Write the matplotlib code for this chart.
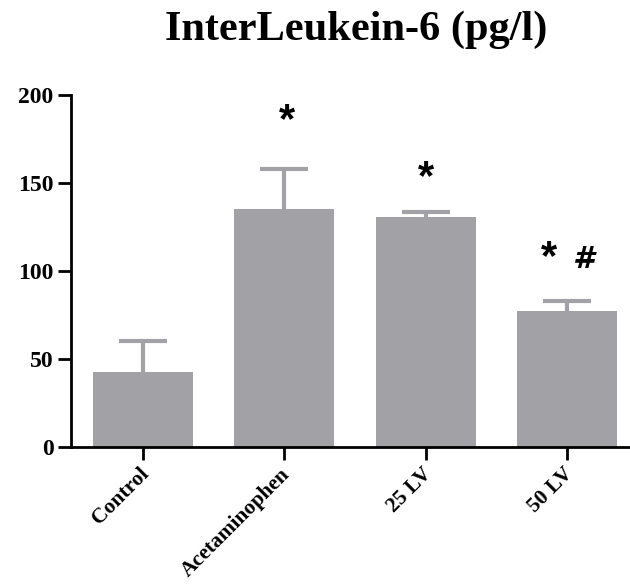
import matplotlib
matplotlib.use("Agg")
import matplotlib.pyplot as plt
from matplotlib.transforms import ScaledTranslation

categories = ["Control", "Acetaminophen", "25 LV", "50 LV"]
means = [42.5, 135.0, 130.8, 77.4]
errors = [17.8, 23.1, 2.9, 5.3]
yticks = [0, 50, 100, 150, 200]
title = "InterLeukein-6 (pg/l)"

bar_color = "#A2A1A6"
serif = ["Liberation Serif", "DejaVu Serif"]
sans = ["Liberation Sans", "DejaVu Sans"]

fig = plt.figure(figsize=(6.3, 5.85), dpi=100)
ax = fig.add_axes([71 / 630, 1 - 446.7 / 585, 559 / 630, (446.7 - 95) / 585])

x = list(range(len(categories)))
ax.bar(x, means, width=0.707, color=bar_color, zorder=2)
eb = ax.errorbar(x, means, yerr=[[0] * len(errors), errors], fmt="none",
                 ecolor=bar_color, elinewidth=3, capsize=17, capthick=3, zorder=1)
# only the upper caps are shown
eb[1][0].set_visible(False)

ax.set_xlim(-0.509, 3.445)
ax.set_ylim(0, 200)

for s in ["top", "right"]:
    ax.spines[s].set_visible(False)
for s in ["left", "bottom"]:
    ax.spines[s].set_linewidth(2)
    ax.spines[s].set_color("black")

ax.set_yticks(yticks)
ax.set_yticklabels([str(v) for v in yticks], fontfamily=serif, fontweight="bold", fontsize=17)
ax.set_xticks(x)
ax.set_xticklabels(categories, fontfamily=serif, fontweight="bold", fontsize=15.5,
                   rotation=45, ha="right", va="top", rotation_mode="anchor")
ax.tick_params(axis="both", length=9.5, width=2, color="black", direction="out")
ax.tick_params(axis="y", pad=3)
ax.tick_params(axis="x", pad=3)
shift = ScaledTranslation(-4 / 100, 0, fig.dpi_scale_trans)
for lab in ax.get_xticklabels():
    lab.set_transform(lab.get_transform() + shift)

# significance marks
ax.text(1.017, 179, "*", fontfamily=sans, fontsize=30, fontweight="bold",
        ha="center", va="baseline")
ax.text(2.0, 146.5, "*", fontfamily=sans, fontsize=30, fontweight="bold",
        ha="center", va="baseline")
ax.text(2.873, 101, "*", fontfamily=sans, fontsize=30, fontweight="bold",
        ha="center", va="baseline")
ax.text(3.11, 101.6, "#", fontfamily="DejaVu Sans", fontsize=22, fontweight="bold",
        fontstyle="oblique", ha="center", va="baseline")

fig.text(356 / 630, 1 - 40 / 585, title, fontfamily=serif, fontweight="bold",
         fontsize=30.5, ha="center", va="baseline")

fig.savefig("out.png", dpi=100)
